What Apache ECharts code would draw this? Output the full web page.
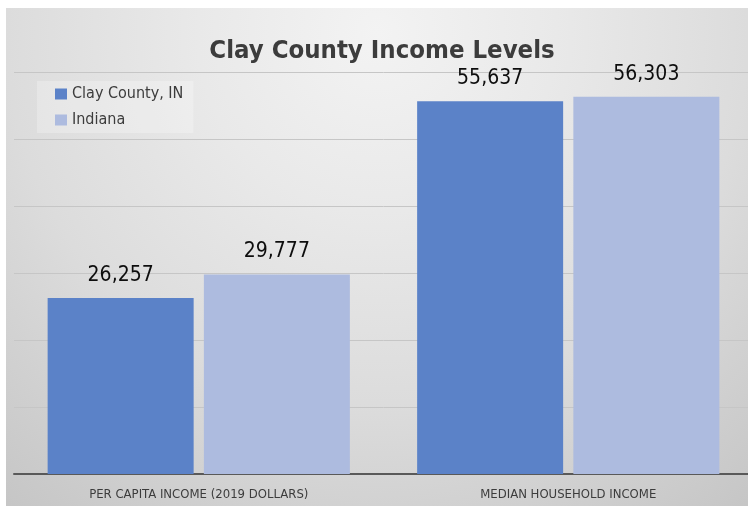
<!DOCTYPE html>
<html>
<head>
<meta charset="utf-8">
<title>Clay County Income Levels</title>
<script src="https://cdn.jsdelivr.net/npm/echarts@6/dist/echarts.min.js"></script>
<style>
  html, body { margin: 0; padding: 0; background: #ffffff; overflow: hidden; }
  /* the plot runs a few pixels past the right edge of the page */
  #chart { width: 756px; height: 506px; }
</style>
</head>
<body>
<div id="chart"></div>
<script>
// Income categories and values (dollars)
var categories = ['PER CAPITA INCOME (2019 DOLLARS)', 'MEDIAN HOUSEHOLD INCOME'];
var clayCounty = [26257, 55637];
var indiana = [29777, 56303];
var seriesNames = ['Clay County, IN', 'Indiana'];

var FONT = "'Liberation Sans Narrow', 'DejaVu Sans Condensed', 'Noto Sans', sans-serif";
var TEXT = '#3c3c3c';

var chart = echarts.init(document.getElementById('chart'), null, { renderer: 'canvas' });

function fmt(v) { return v.toLocaleString('en-US'); }

var labelStyle = {
  show: true,
  position: 'top',
  distance: 12,
  color: '#0d0d0d',
  fontFamily: FONT,
  fontSize: 21,
  formatter: function (p) { return fmt(p.value); }
};

chart.setOption({
  backgroundColor: '#ffffff',
  animation: false,
  graphic: [{
    // soft grey plot backdrop, brightest behind the title
    type: 'rect',
    z: -10,
    silent: true,
    shape: { x: 6, y: 8, width: 750, height: 498 },
    style: {
      fill: {
        type: 'radial', x: 0.495, y: 0.05, r: 1.2,
        colorStops: [
          { offset: 0, color: '#f3f3f3' },
          { offset: 0.3, color: '#e9e9e9' },
          { offset: 0.62, color: '#dcdcdc' },
          { offset: 0.79, color: '#d2d2d2' },
          { offset: 1, color: '#c6c6c6' }
        ]
      }
    }
  }],
  title: {
    text: 'Clay County Income Levels',
    left: 377,
    textAlign: 'center',
    top: 33,
    textStyle: { fontFamily: FONT, fontWeight: 'bold', fontSize: 25.5, color: TEXT }
  },
  legend: {
    data: seriesNames,
    orient: 'vertical',
    left: 37,
    top: 81,
    padding: [5, 10, 5, 18],
    backgroundColor: 'rgba(255,255,255,0.25)',
    itemWidth: 12,
    itemHeight: 11,
    itemGap: 10,
    icon: 'rect',
    textStyle: { fontFamily: FONT, fontSize: 16, color: TEXT }
  },
  grid: { left: 14, width: 739, top: 72, bottom: 32, containLabel: false },
  xAxis: {
    type: 'category',
    data: categories,
    axisLine: { show: true, lineStyle: { color: '#595959', width: 2 } },
    axisTick: { show: false },
    axisLabel: { color: TEXT, fontFamily: FONT, fontSize: 13, margin: 14 }
  },
  yAxis: {
    type: 'value',
    min: 0,
    max: 60000,
    interval: 10000,
    axisLabel: { show: false },
    axisLine: { show: false },
    axisTick: { show: false },
    splitLine: { show: true, lineStyle: { color: '#c6c6c6', width: 1 } }
  },
  series: [
    {
      name: seriesNames[0],
      type: 'bar',
      data: clayCounty,
      barWidth: 146,
      barGap: '7%',
      itemStyle: { color: '#5b82c8' },
      label: labelStyle
    },
    {
      name: seriesNames[1],
      type: 'bar',
      data: indiana,
      barWidth: 146,
      barGap: '7%',
      itemStyle: { color: '#adbbdf' },
      label: labelStyle
    }
  ]
});
</script>
</body>
</html>
